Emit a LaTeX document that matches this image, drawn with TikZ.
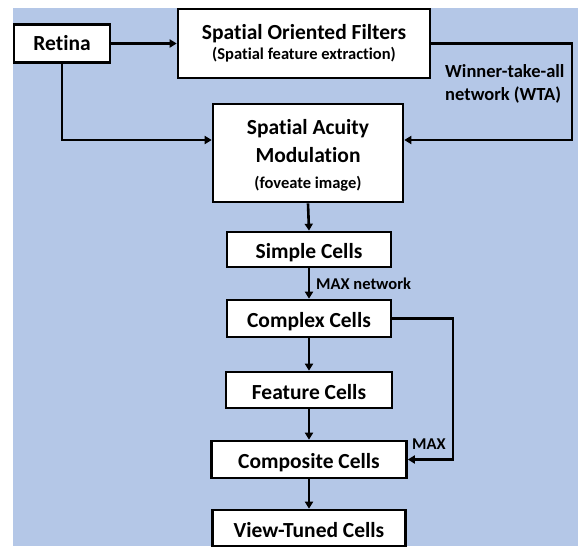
\documentclass[tikz,border=0pt]{standalone}
\usepackage{fontspec}
\setmainfont{Carlito}[Ligatures=NoCommon]
\usetikzlibrary{arrows.meta,calc}
\definecolor{panel}{HTML}{B4C7E7}
\newcommand{\subfont}{\fontsize{16.5}{19}\selectfont}
\tikzset{
  box/.style={draw=black, line width=2.6pt, fill=white, inner sep=0pt, font=\bfseries\fontsize{21.5}{25}\selectfont, align=center},
  cell/.style={box, text height=18pt, text depth=0pt},
  conn/.style={line width=2.6pt, black},
  arr/.style={conn, -{Triangle[length=7pt,width=8pt]}},
  lbl/.style={inner sep=0pt, font=\bfseries\fontsize{16.5}{22}\selectfont, align=left}
}
\begin{document}
\begin{tikzpicture}[x=1pt,y=-1pt]
  % canvas and blue panel
  \path[fill=white] (0,0) rectangle (578,546);
  \useasboundingbox (0,0) rectangle (578,546);
  \fill[panel] (13,8) rectangle (578,546);

  % boxes
  \node[box, minimum width=96pt, minimum height=38pt] (retina) at (62,43.5) {Retina};
  \node[box, minimum width=252pt, minimum height=69pt] (sof) at (304,43.5)
    {Spatial Oriented Filters\\[-5pt]{\subfont (Spatial feature extraction)}};
  \node[box, minimum width=190pt, minimum height=98pt] (sam) at (308,153)
    {\rule{0pt}{20pt}Spatial Acuity\\[3pt]Modulation\\[1pt]{\subfont (foveate image)}};
  \node[cell, minimum width=164pt, minimum height=35pt] (simple) at (309,249.5) {Simple Cells};
  \node[cell, minimum width=164pt, minimum height=37pt] (complex) at (309,318.5) {Complex Cells};
  \node[cell, minimum width=166pt, minimum height=36pt] (feature) at (309,390) {Feature Cells};
  \node[cell, minimum width=195pt, minimum height=37pt] (composite) at (309,459.5) {Composite Cells};
  \node[cell, minimum width=193pt, minimum height=36pt] (view) at (309,528) {View-Tuned Cells};

  % connector end points
  \coordinate (samL) at (sam.west |- 0,140);
  \coordinate (samR) at (sam.east |- 0,140);
  \coordinate (wtaTurn) at (572,0);
  \coordinate (maxTurn) at (453,0);

  % connectors
  \draw[arr] (retina.east) -- (sof.west |- retina.east);
  \draw[arr] (retina.south) |- (samL);
  \draw[arr] (sof.east) -- (sof.east -| wtaTurn) |- (samR);
  \draw[arr] (sam.south) -- (simple.north);
  \draw[arr] (simple.south) -- (complex.north);
  \draw[arr] (complex.south) -- (feature.north);
  \draw[arr] (feature.south) -- (composite.north);
  \draw[arr] (composite.south) -- (view.north);
  \draw[arr] (complex.east) -- (complex.east -| maxTurn) |- (composite.east);

  % labels
  \node[lbl, anchor=north west, font=\bfseries\fontsize{18.5}{23}\selectfont] (wta) at (445,64) {Winner-take-all\\network (WTA)};
  \node[lbl, anchor=west] (maxnet) at (316,284) {MAX network};
  \node[lbl, anchor=west] (maxlbl) at (412,444) {MAX};
\end{tikzpicture}
\end{document}
